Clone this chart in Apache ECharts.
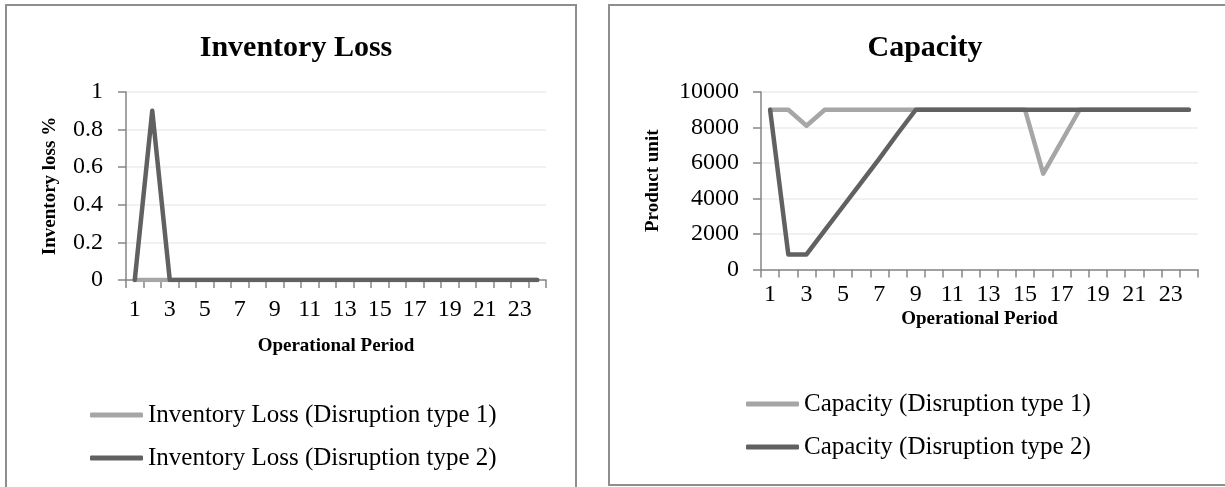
<!DOCTYPE html>
<html>
<head>
<meta charset="utf-8">
<script src="https://cdn.jsdelivr.net/npm/echarts@6/dist/echarts.min.js"></script>
<style>
html,body{margin:0;padding:0;background:#fff;}
#c{width:1225px;height:487px;}
</style>
</head>
<body>
<div id="c"></div>
<script>
var periods = ['1','2','3','4','5','6','7','8','9','10','11','12','13','14','15','16','17','18','19','20','21','22','23','24'];
var invLossType1 = [0,0,0,0,0,0,0,0,0,0,0,0,0,0,0,0,0,0,0,0,0,0,0,0];
var invLossType2 = [0,0.9,0,0,0,0,0,0,0,0,0,0,0,0,0,0,0,0,0,0,0,0,0,0];
var capType1 = [9000,9000,8100,9000,9000,9000,9000,9000,9000,9000,9000,9000,9000,9000,9000,5400,7200,9000,9000,9000,9000,9000,9000,9000];
var capType2 = [9000,850,850,2200,3550,4900,6250,7650,9000,9000,9000,9000,9000,9000,9000,9000,9000,9000,9000,9000,9000,9000,9000,9000];
var invTicks = {min:0, max:1, interval:0.2};
var capTicks = {min:0, max:10000, interval:2000};

var FONT = 'Liberation Serif';
var LIGHT = '#A6A6A6', DARK = '#616161', AXIS = '#868686';
var chart = echarts.init(document.getElementById('c'), null, {renderer:'canvas'});

function xAx(idx, gap, margin){
  return {
    type:'category', gridIndex:idx, data:periods, boundaryGap:true,
    name:'Operational Period', nameLocation:'middle', nameGap:gap,
    nameTextStyle:{fontFamily:FONT, fontWeight:'bold', fontSize:19, color:'#000'},
    axisLine:{show:true, lineStyle:{color:AXIS, width:1.5}},
    axisTick:{show:true, interval:0, length:8, lineStyle:{color:AXIS, width:1.5}},
    axisLabel:{interval:1, fontFamily:FONT, fontSize:24, color:'#000', margin:margin},
    splitLine:{show:false}
  };
}
function yAx(idx, t, name, gap, margin){
  return {
    type:'value', gridIndex:idx, min:t.min, max:t.max, interval:t.interval,
    name:name, nameLocation:'middle', nameGap:gap,
    nameTextStyle:{fontFamily:FONT, fontWeight:'bold', fontSize:19, color:'#000'},
    axisLine:{show:true, lineStyle:{color:AXIS, width:1.5}},
    axisTick:{show:true, length:8, lineStyle:{color:AXIS, width:1.5}},
    axisLabel:{fontFamily:FONT, fontSize:24, color:'#000', margin:margin,
      formatter:function(v){return String(v);}},
    splitLine:{show:true, lineStyle:{color:'#EDEDED', width:1.5}}
  };
}
function ser(name, data, color, idx){
  return {
    name:name, type:'line', xAxisIndex:idx, yAxisIndex:idx, data:data,
    symbol:'none', showSymbol:false, smooth:false, animation:false,
    lineStyle:{color:color, width:4.5, cap:'round', join:'round'},
    itemStyle:{color:color}
  };
}
var legendText = {fontFamily:FONT, fontSize:25, color:'#000', lineHeight:26};

chart.setOption({
  animation:false,
  title:[
    {text:'Inventory Loss', left:291, top:28, textAlign:'center',
     textStyle:{fontFamily:FONT, fontWeight:'bold', fontSize:30, color:'#000'}},
    {text:'Capacity', left:920, top:28, textAlign:'center',
     textStyle:{fontFamily:FONT, fontWeight:'bold', fontSize:30, color:'#000'}}
  ],
  grid:[
    {left:126, top:92, width:420, height:188},
    {left:761, top:92, width:437, height:177.5}
  ],
  xAxis:[xAx(0,57,18), xAx(1,40,13)],
  yAxis:[yAx(0,invTicks,'Inventory loss %',66,23), yAx(1,capTicks,'Product unit',98,22)],
  legend:[
    {data:['Inventory Loss (Disruption type 1)','Inventory Loss (Disruption type 2)'],
     orient:'vertical', left:85, top:397, itemWidth:53, itemHeight:5, itemGap:17,
     icon:'roundRect', textStyle:legendText, selectedMode:false},
    {data:['Capacity (Disruption type 1)','Capacity (Disruption type 2)'],
     orient:'vertical', left:741, top:386, itemWidth:53, itemHeight:5, itemGap:17,
     icon:'roundRect', textStyle:legendText, selectedMode:false}
  ],
  graphic:[
    {type:'rect', shape:{x:6, y:5, width:570, height:500}, style:{fill:'none', stroke:'#8E8E8E', lineWidth:2}, z:-1},
    {type:'rect', shape:{x:609, y:5, width:640, height:480}, style:{fill:'none', stroke:'#8E8E8E', lineWidth:2}, z:-1}
  ],
  series:[
    ser('Inventory Loss (Disruption type 1)', invLossType1, LIGHT, 0),
    ser('Inventory Loss (Disruption type 2)', invLossType2, DARK, 0),
    ser('Capacity (Disruption type 1)', capType1, LIGHT, 1),
    ser('Capacity (Disruption type 2)', capType2, DARK, 1)
  ]
});
</script>
</body>
</html>
